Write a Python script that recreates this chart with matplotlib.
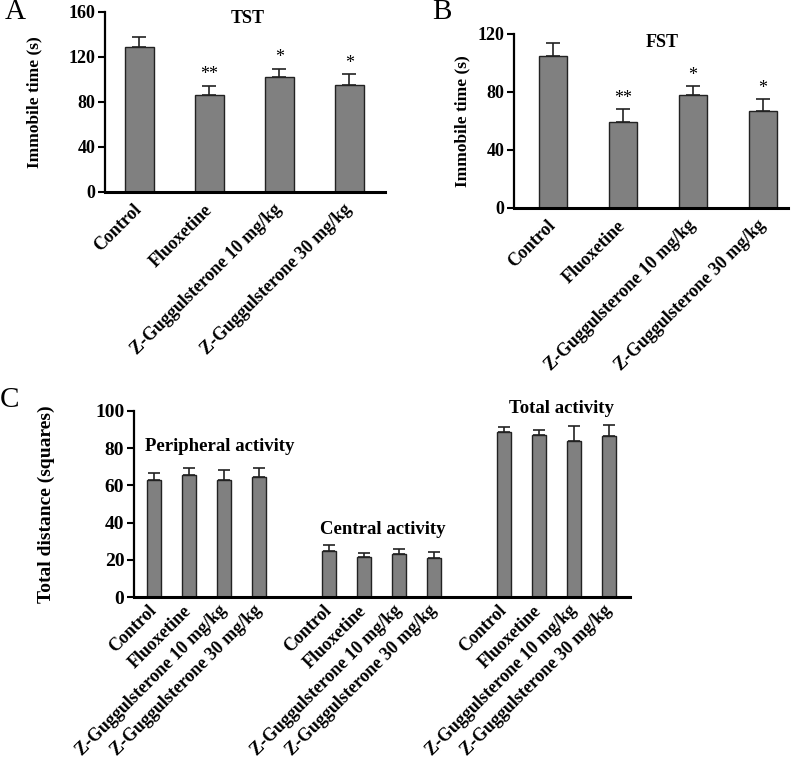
import matplotlib
matplotlib.use("Agg")
import matplotlib.pyplot as plt
import numpy as np

plt.rcParams['font.family'] = ['Liberation Serif', 'DejaVu Serif']
plt.rcParams['font.weight'] = 'bold'
plt.rcParams['axes.labelweight'] = 'bold'

groups = ["Control", "Fluoxetine", "Z-Guggulsterone 10 mg/kg", "Z-Guggulsterone 30 mg/kg"]

# panel A - TST
tst_mean = [128.5, 86.5, 102.5, 95.5]
tst_err = [9, 8, 7, 9]
tst_sig = ["", "**", "*", "*"]

# panel B - FST
fst_mean = [105, 59, 78, 67]
fst_err = [9, 9, 6, 8]
fst_sig = ["", "**", "*", "*"]

# panel C - open field
of_sets = ["Peripheral activity", "Central activity", "Total activity"]
of_mean = [[62.8, 65.5, 62.8, 64.4],
           [24.5, 21.6, 23.0, 21.2],
           [88.6, 86.9, 83.9, 86.4]]
of_err = [[3.7, 3.7, 5.5, 4.8],
          [3.4, 2.2, 2.7, 3.2],
          [3.0, 2.7, 8.2, 6.3]]

W, H = 800, 766
fig = plt.figure(figsize=(W / 100, H / 100), dpi=100)

def px_axes(l, t, r, b):
    return fig.add_axes([l / W, 1 - b / H, (r - l) / W, (b - t) / H])

def style(ax):
    for s in ['top', 'right']:
        ax.spines[s].set_visible(False)
    ax.spines['left'].set_linewidth(1.6)
    ax.spines['bottom'].set_linewidth(2.2)
    ax.tick_params(axis='y', direction='out', length=5, width=1.5, labelsize=13, pad=2)
    ax.tick_params(axis='x', length=0, pad=11)

def bar_panel(ax, means, errs, sig, ymax, step, title, tx, ty, xlim, lpad):
    x = np.arange(len(means))
    ax.bar(x, means, width=0.41, color='#808080', edgecolor='#222222', linewidth=1.0, zorder=2)
    ax.errorbar(x, means, yerr=[np.zeros(len(errs)), errs], fmt='none',
                ecolor='#222222', elinewidth=1.2, capsize=5, capthick=1.2, zorder=3)
    for xi, m, e, s in zip(x, means, errs, sig):
        if s:
            ax.text(xi, m + e + ymax * 0.015, s, ha='center', va='bottom', fontsize=13, fontweight='normal')
    ax.set_ylim(0, ymax)
    ax.set_yticks(np.arange(0, ymax + 1, step))
    ax.set_xlim(*xlim)
    ax.set_xticks(x)
    ax.set_xticklabels(groups, rotation=45, ha='right', va='center',
                       rotation_mode='anchor', fontsize=13)
    ax.set_ylabel("Immobile time (s)", fontsize=12.5, labelpad=lpad)
    ax.text(tx, ty, title, transform=ax.transAxes, ha='center', va='top', fontsize=13)
    style(ax)

axA = px_axes(105, 12, 385, 192)
bar_panel(axA, tst_mean, tst_err, tst_sig, 160, 40, "TST", 0.51, 1.01, (-0.49, 3.51), 19)

axB = px_axes(514, 34, 788, 208)
bar_panel(axB, fst_mean, fst_err, fst_sig, 120, 40, "FST", 0.54, 1.0, (-0.56, 3.36), 5)

axC = px_axes(134, 411, 630, 597)
pos = []
labels = []
for gi, (name, m, e) in enumerate(zip(of_sets, of_mean, of_err)):
    x = np.arange(4) + gi * 5
    axC.bar(x, m, width=0.4, color='#808080', edgecolor='#222222', linewidth=1.0, zorder=2)
    axC.errorbar(x, m, yerr=[np.zeros(4), e], fmt='none', ecolor='#222222',
                 elinewidth=1.2, capsize=4.5, capthick=1.2, zorder=3)
    pos += list(x)
    labels += groups
axC.text(-0.25, 81, of_sets[0], ha='left', va='center', fontsize=13.5)
axC.text(4.75, 36.5, of_sets[1], ha='left', va='center', fontsize=13.5)
axC.text(11.65, 101.5, of_sets[2], ha='center', va='center', fontsize=13.5)
axC.set_ylim(0, 100)
axC.set_yticks(np.arange(0, 101, 20))
axC.set_xlim(-0.57, 13.6)
axC.set_xticks(pos)
axC.set_xticklabels(labels, rotation=45, ha='right', va='center',
                    rotation_mode='anchor', fontsize=13)
axC.set_ylabel("Total distance (squares)", fontsize=14, labelpad=29)
style(axC)
axC.tick_params(axis='y', labelsize=14)
axC.tick_params(axis='x', pad=8)

fig.text(5 / W, 1 - 12 / H, "A", fontsize=21, fontweight='normal', va='center', ha='left')
fig.text(432 / W, 1 - 12 / H, "B", fontsize=21, fontweight='normal', va='center', ha='left')
fig.text(0 / W, 1 - 400 / H, "C", fontsize=21, fontweight='normal', va='center', ha='left')

fig.savefig("out.png", dpi=100)
